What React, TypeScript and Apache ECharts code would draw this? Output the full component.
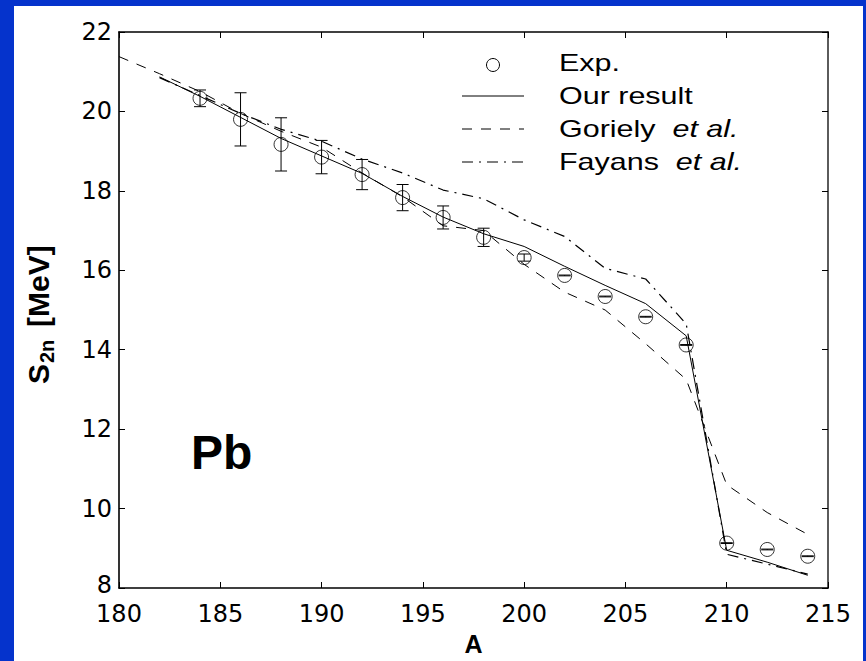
import React, { useEffect, useRef } from "react";
import * as echarts from "echarts";

// ---- data ----
const expA = [184, 186, 188, 190, 192, 194, 196, 198, 200, 202, 204, 206, 208, 210, 212, 214];
const expS = [20.33, 19.8, 19.17, 18.85, 18.41, 17.83, 17.33, 16.83, 16.32, 15.87, 15.34, 14.83, 14.12, 9.13, 8.97, 8.8];
const expErr = [0.21, 0.67, 0.67, 0.42, 0.38, 0.33, 0.29, 0.23, 0.09, 0.01, 0.01, 0.01, 0.01, 0.01, 0.01, 0.01];

const ourA = [182, 184, 186, 188, 190, 192, 194, 196, 198, 200, 202, 204, 206, 208, 210, 212, 214];
const ourS = [20.87, 20.38, 19.85, 19.32, 18.88, 18.44, 17.86, 17.34, 16.92, 16.6, 16.1, 15.62, 15.16, 14.35, 8.95, 8.65, 8.32];

const gorA = [180, 182, 184, 186, 188, 190, 192, 194, 196, 198, 200, 202, 204, 206, 208, 210, 212, 214];
const gorS = [21.38, 20.95, 20.5, 19.95, 19.5, 19.1, 18.45, 17.85, 17.12, 17.0, 16.15, 15.45, 15.0, 14.15, 13.25, 10.6, 9.9, 9.35];

const fayA = [182, 184, 186, 188, 190, 192, 194, 196, 198, 200, 202, 204, 206, 208, 210, 212, 214];
const fayS = [20.85, 20.4, 19.95, 19.55, 19.25, 18.8, 18.45, 18.02, 17.8, 17.27, 16.85, 16.05, 15.78, 14.65, 8.85, 8.6, 8.35];

const xRange = [180, 215];
const xStep = 5;
const yRange = [8, 22];
const yStep = 2;

const legendNames = ["Exp.", "Our result", "Goriely", "Fayans"];
const etAl = "et al.";
const elementLabel = "Pb";

const W = 866;
const H = 661;

export default function App() {
  const ref = useRef<HTMLDivElement>(null);
  useEffect(() => {
    if (!ref.current) return;
    const chart = echarts.init(ref.current, null, { renderer: "svg", width: W, height: H });
    const tickFont = "DejaVu Sans";
    const textFont = "Liberation Sans";
    const axisCommon = {
      type: "value",
      axisLine: { show: true, onZero: false, lineStyle: { color: "#000", width: 1.6 } },
      axisTick: { show: true, inside: true, length: 6, lineStyle: { color: "#000", width: 1 } },
      splitLine: { show: false },
    };
    const lineStyleBase = { color: "#000", width: 1 };
    const legendX0 = 462;
    const legendX1 = 524;
    const legendTextX = 559;
    const rowY = [63, 96, 129, 162];
    const txtStyle = { fill: "#000", font: `24px "${textFont}"`, verticalAlign: "middle", align: "left" };
    const option: any = {
      animation: false,
      backgroundColor: "transparent",
      grid: { left: 119, top: 32, right: W - 828, bottom: H - 591, containLabel: false },
      xAxis: [
        {
          ...axisCommon,
          position: "bottom",
          min: xRange[0],
          max: xRange[1],
          interval: xStep,
          axisLabel: { show: true, color: "#000", fontFamily: tickFont, fontSize: 24, lineHeight: 18, margin: 17 },
          name: "A",
          nameLocation: "middle",
          nameGap: 43,
          nameTextStyle: { color: "#000", fontFamily: textFont, fontWeight: "bold", fontSize: 25 },
        },
        {
          ...axisCommon,
          position: "top",
          min: xRange[0],
          max: xRange[1],
          interval: xStep,
          axisLabel: { show: false },
        },
      ],
      yAxis: [
        {
          ...axisCommon,
          position: "left",
          min: yRange[0],
          max: yRange[1],
          interval: yStep,
          axisLabel: {
            show: true,
            color: "#000",
            fontFamily: tickFont,
            fontSize: 24,
            lineHeight: 18,
            margin: 7,
            formatter: (v: number) => (v === yRange[0] ? `{lo|${v}}` : `${v}`),
            rich: {
              lo: { fontFamily: tickFont, fontSize: 24, color: "#000", lineHeight: 18, padding: [0, 0, 7, 0] },
            },
          },
        },
        {
          ...axisCommon,
          position: "right",
          min: yRange[0],
          max: yRange[1],
          interval: yStep,
          axisLine: { show: true, onZero: false, lineStyle: { color: "#333", width: 1.6 } },
          axisLabel: { show: false },
        },
      ],
      series: [
        {
          name: "Our result",
          type: "line",
          data: ourA.map((a, i) => [a, ourS[i]]),
          symbol: "none",
          lineStyle: { ...lineStyleBase, type: "solid" },
          z: 3,
        },
        {
          name: "Goriely et al.",
          type: "line",
          data: gorA.map((a, i) => [a, gorS[i]]),
          symbol: "none",
          lineStyle: { ...lineStyleBase, type: [10, 9] },
          z: 3,
        },
        {
          name: "Fayans et al.",
          type: "line",
          data: fayA.map((a, i) => [a, fayS[i]]),
          symbol: "none",
          lineStyle: { ...lineStyleBase, width: 1.2, type: [11, 6, 2, 6] },
          z: 3,
        },
        {
          name: "Exp. error",
          type: "custom",
          data: expA.map((a, i) => [a, expS[i], expErr[i]]),
          encode: { x: 0, y: 1 },
          renderItem: (params: any, api: any) => {
            const x = api.value(0);
            const y = api.value(1);
            const e = api.value(2);
            const top = api.coord([x, y + e]);
            const bot = api.coord([x, y - e]);
            const hw = 6;
            const st = { stroke: "#000", lineWidth: 1 };
            return {
              type: "group",
              children: [
                { type: "line", shape: { x1: top[0], y1: top[1], x2: bot[0], y2: bot[1] }, style: st },
                { type: "line", shape: { x1: top[0] - hw, y1: top[1], x2: top[0] + hw, y2: top[1] }, style: st },
                { type: "line", shape: { x1: bot[0] - hw, y1: bot[1], x2: bot[0] + hw, y2: bot[1] }, style: st },
              ],
            };
          },
          z: 4,
        },
        {
          name: "Exp.",
          type: "scatter",
          data: expA.map((a, i) => [a, expS[i]]),
          symbol: "circle",
          symbolSize: 14,
          itemStyle: { color: "rgba(0,0,0,0)", borderColor: "#000", borderWidth: 1 },
          z: 5,
        },
      ],
      graphic: [
        // legend
        {
          type: "circle",
          shape: { cx: (legendX0 + legendX1) / 2, cy: rowY[0] + 2, r: 6.5 },
          style: { fill: "none", stroke: "#000", lineWidth: 1 },
        },
        {
          type: "line",
          shape: { x1: legendX0, y1: rowY[1], x2: legendX1, y2: rowY[1] },
          style: { stroke: "#000", lineWidth: 1 },
        },
        {
          type: "line",
          shape: { x1: legendX0, y1: rowY[2], x2: legendX1, y2: rowY[2] },
          style: { stroke: "#000", lineWidth: 1, lineDash: [10, 9] },
        },
        {
          type: "line",
          shape: { x1: legendX0, y1: rowY[3], x2: legendX1, y2: rowY[3] },
          style: { stroke: "#000", lineWidth: 1.2, lineDash: [11, 6, 2, 6] },
        },
        {
          type: "text",
          x: legendTextX,
          y: rowY[0],
          scaleX: 1.27,
          style: { ...txtStyle, text: legendNames[0] },
        },
        {
          type: "text",
          x: legendTextX,
          y: rowY[1],
          scaleX: 1.27,
          style: { ...txtStyle, text: legendNames[1] },
        },
        {
          type: "text",
          x: legendTextX,
          y: rowY[2],
          scaleX: 1.27,
          style: {
            ...txtStyle,
            text: `{n|${legendNames[2]}}{n|  }{i|${etAl}}`,
            rich: {
              n: { fontFamily: textFont, fontSize: 24, fill: "#000" },
              i: { fontFamily: textFont, fontSize: 24, fontStyle: "italic", fill: "#000" },
            },
          },
        },
        {
          type: "text",
          x: legendTextX,
          y: rowY[3],
          scaleX: 1.27,
          style: {
            ...txtStyle,
            text: `{n|${legendNames[3]}}{n|  }{i|${etAl}}`,
            rich: {
              n: { fontFamily: textFont, fontSize: 24, fill: "#000" },
              i: { fontFamily: textFont, fontSize: 24, fontStyle: "italic", fill: "#000" },
            },
          },
        },
        // element label
        {
          type: "text",
          x: 191,
          y: 452,
          style: {
            text: elementLabel,
            fill: "#000",
            font: `bold 48px "${textFont}"`,
            align: "left",
            verticalAlign: "middle",
          },
        },
        // y axis name: S_2n [MeV]
        {
          type: "group",
          x: 38,
          y: 384,
          rotation: Math.PI / 2,
          children: [
            {
              type: "text",
              x: 0,
              y: 0,
              style: { text: "S", fill: "#000", font: `bold 30px "${textFont}"`, align: "left", verticalAlign: "middle" },
            },
            {
              type: "text",
              x: 21,
              y: 9,
              style: { text: "2n", fill: "#000", font: `bold 20px "${textFont}"`, align: "left", verticalAlign: "middle" },
            },
            {
              type: "text",
              x: 57,
              y: 0,
              style: { text: "[MeV]", fill: "#000", font: `bold 30px "${textFont}"`, align: "left", verticalAlign: "middle" },
            },
          ],
        },
      ],
    };
    chart.setOption(option);
    return () => chart.dispose();
  }, []);

  return (
    <div style={{ position: "fixed", left: 0, top: 0, width: W, height: H, background: "#0533cc", overflow: "hidden" }}>
      <div style={{ position: "absolute", left: 14, top: 6, width: 849, height: 655, background: "#fff" }} />
      <div ref={ref} style={{ position: "absolute", left: 0, top: 0, width: W, height: H }} />
    </div>
  );
}
